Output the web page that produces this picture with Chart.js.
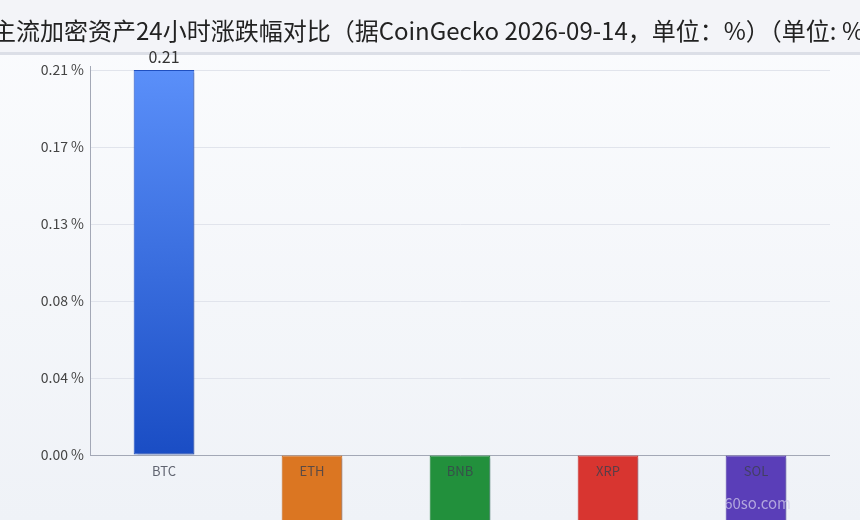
<!DOCTYPE html>
<html>
<head>
<meta charset="utf-8">
<script src="https://cdn.jsdelivr.net/npm/chart.js@4.4.0/dist/chart.umd.min.js"></script>
<style>
  html, body { margin: 0; padding: 0; background: #f4f6fa; }
  #wrap { position: relative; width: 860px; height: 520px; }
</style>
</head>
<body>
<div id="wrap"><canvas id="myChart" width="860" height="520"></canvas></div>
<script>
  // data
  var assets = ["BTC", "ETH", "BNB", "XRP", "SOL"];
  var change24h = [0.21, -0.92, -0.45, -1.35, -1.83];
  var yTicks = [0, 0.042, 0.084, 0.126, 0.168, 0.21];
  var barColors = ["#4f82ea", "#db7622", "#22903c", "#d83530", "#5a3eb8"];
  var barBorders = ["#1f4fc0", "#c96a1c", "#1e8036", "#c52e2a", "#4f35a8"];
  var titleText = "主流加密资产24小时涨跌幅对比（据CoinGecko 2026-09-14，单位：%）（单位: %）";

  var font = "'Noto Sans CJK SC', 'Noto Sans', sans-serif";

  var bgPlugin = {
    id: "bg",
    beforeDraw: function (chart) {
      var ctx = chart.ctx;
      ctx.save();
      var g = ctx.createLinearGradient(0, 0, 0, chart.height);
      g.addColorStop(0, "#fbfcfe");
      g.addColorStop(1, "#eff2f7");
      ctx.fillStyle = g;
      ctx.fillRect(0, 0, chart.width, chart.height);
      // title band
      ctx.fillStyle = "#f3f4f8";
      ctx.fillRect(0, 0, chart.width, 52);
      ctx.fillStyle = "#dcdfe7";
      ctx.fillRect(0, 52, chart.width, 3);
      // title, natural width (overflows the canvas like the original)
      ctx.font = "24px " + font;
      ctx.fillStyle = "#222";
      ctx.textAlign = "center";
      ctx.textBaseline = "middle";
      ctx.fillText(titleText, chart.width / 2 + 10, 31);
      ctx.restore();
    },
  };

  var shadowPlugin = {
    id: "barShadow",
    beforeDatasetsDraw: function (chart) {
      var ctx = chart.ctx;
      ctx.save();
      ctx.shadowColor = "rgba(95,105,145,0.38)";
      ctx.shadowOffsetX = 4;
      ctx.shadowOffsetY = 3;
      ctx.shadowBlur = 1;
    },
    afterDatasetsDraw: function (chart) {
      chart.ctx.restore();
      // value label above positive bars
      var ctx = chart.ctx;
      var meta = chart.getDatasetMeta(0);
      ctx.save();
      ctx.font = "16px " + font;
      ctx.fillStyle = "#333";
      ctx.textAlign = "center";
      ctx.textBaseline = "bottom";
      meta.data.forEach(function (bar, i) {
        var v = change24h[i];
        if (v > 0) ctx.fillText(v.toFixed(2), bar.x, bar.y - 5);
      });
      ctx.restore();
    },
    afterDraw: function (chart) {
      var ctx = chart.ctx;
      ctx.save();
      ctx.font = "15px " + font;
      ctx.fillStyle = "rgba(210,205,235,0.72)";
      ctx.textAlign = "right";
      ctx.textBaseline = "alphabetic";
      ctx.fillText("60so.com", 791, 509);
      ctx.restore();
    },
  };

  var ctx = document.getElementById("myChart").getContext("2d");
  var myChart = new Chart(ctx, {
    type: "bar",
    data: {
      labels: assets,
      datasets: [
        {
          data: change24h,
          backgroundColor: function (c) {
            var area = c.chart.chartArea;
            if (c.dataIndex === 0 && area) {
              var g = c.chart.ctx.createLinearGradient(0, area.top, 0, area.bottom);
              g.addColorStop(0, "#5b90fa");
              g.addColorStop(1, "#1a4dc4");
              return g;
            }
            return barColors[c.dataIndex];
          },
          borderColor: barBorders,
          borderWidth: 1,
          borderSkipped: false,
          barPercentage: 0.5,
          categoryPercentage: 0.82,
          clip: false,
        },
      ],
    },
    options: {
      responsive: false,
      animation: false,
      devicePixelRatio: 1,
      layout: { padding: { left: 0, right: 30, top: 66, bottom: 0 } },
      scales: {
        x: {
          grid: { display: false, drawTicks: false },
          border: { display: false },
          ticks: {
            z: 1,
            color: "rgba(60,64,78,0.8)",
            font: { family: font, size: 13 },
            padding: 8,
          },
          afterFit: function (s) { s.height = 65; },
        },
        y: {
          min: 0,
          max: 0.2122,
          afterBuildTicks: function (s) {
            s.ticks = yTicks.map(function (v) { return { value: v }; });
          },
          grid: {
            color: function (c) { return c.tick && c.tick.value === 0 ? "#a3a8b6" : "#e1e4ec"; },
            drawTicks: false,
          },
          border: { color: "#a3a8b6" },
          ticks: {
            color: "#444",
            padding: 6,
            font: { family: font, size: 14 },
            callback: function (v) { return v.toFixed(2) + " %"; },
          },
          afterFit: function (s) { s.width = 90; },
        },
      },
      plugins: {
        legend: { display: false },
        tooltip: { enabled: false },
        title: { display: false },
      },
    },
    plugins: [bgPlugin, shadowPlugin],
  });
</script>
</body>
</html>
